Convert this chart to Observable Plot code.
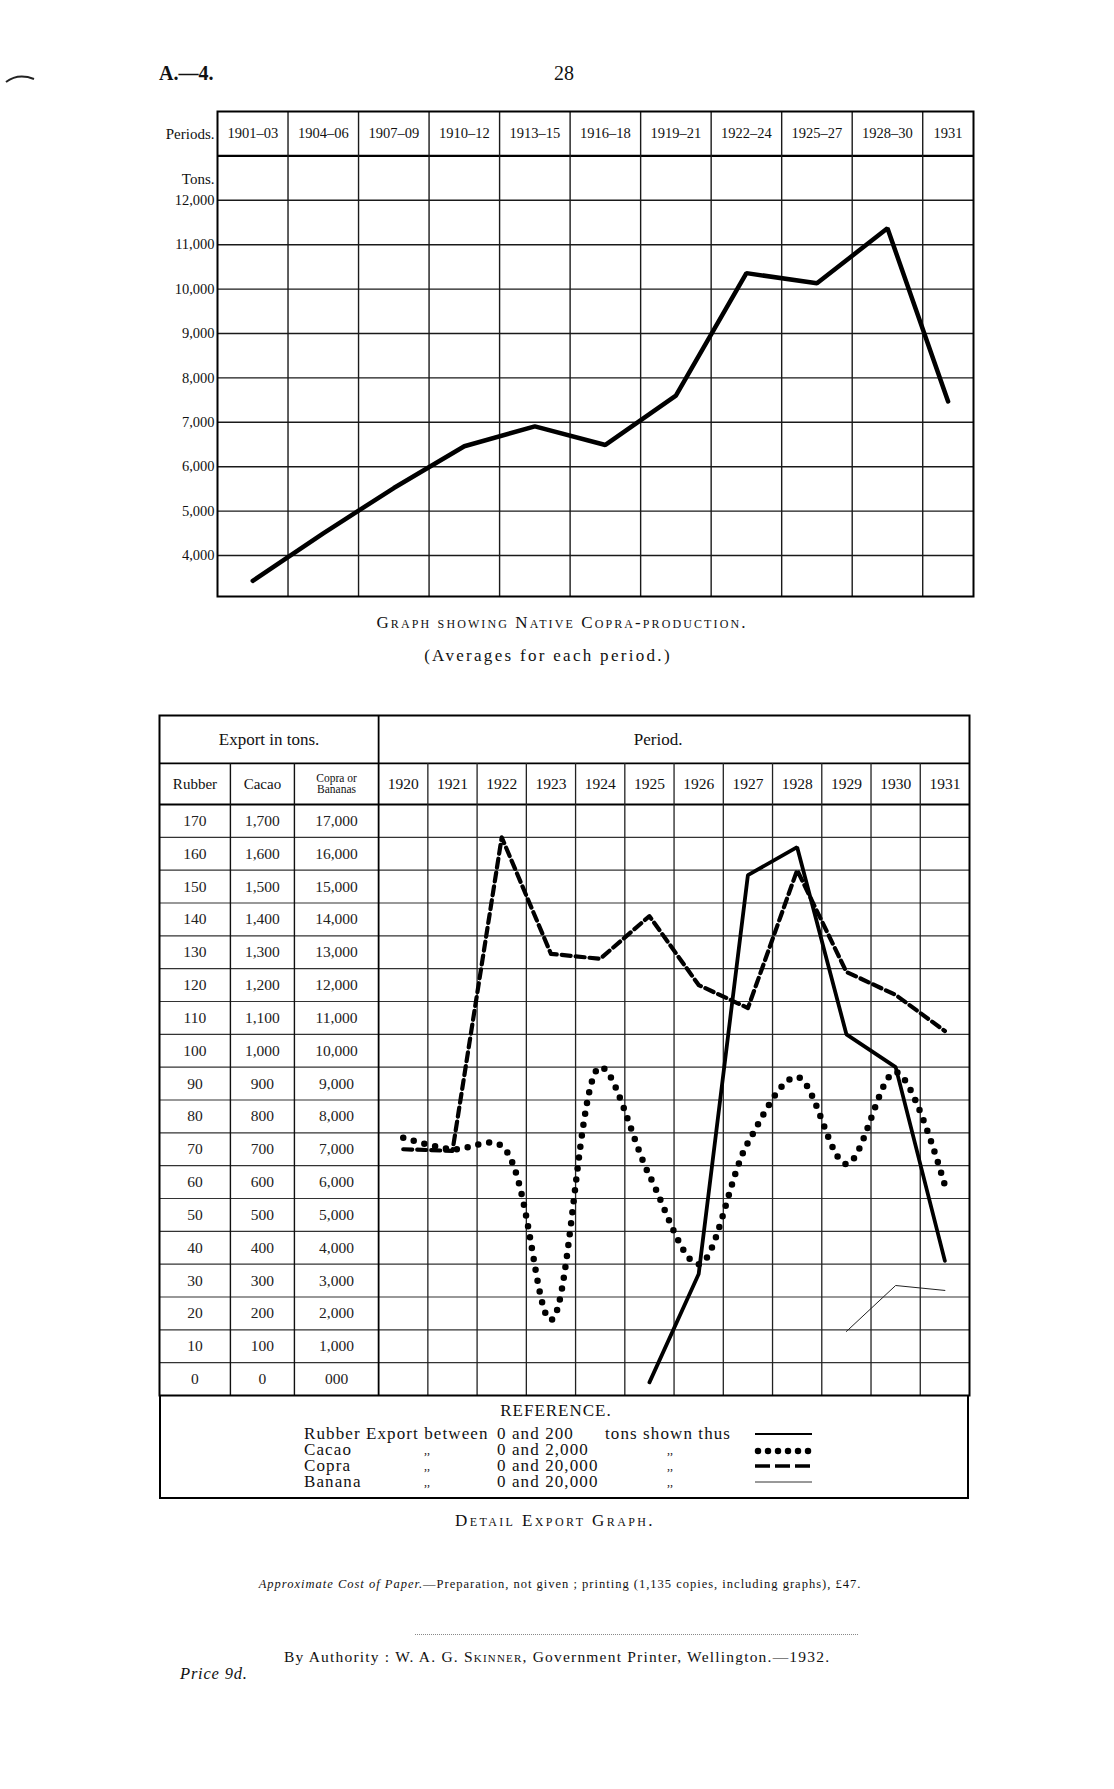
<!DOCTYPE html>
<html><head><meta charset="utf-8">
<script src="https://cdn.jsdelivr.net/npm/d3@7"></script>
<script src="https://cdn.jsdelivr.net/npm/@observablehq/plot@0.6"></script>
<style>
body{margin:0;background:#fff;}
#page{position:relative;width:1114px;height:1789px;background:#fff;font-family:"Liberation Serif","DejaVu Serif",serif;color:#111;overflow:hidden;}
.t{position:absolute;white-space:nowrap;line-height:1;}
.c{position:absolute;white-space:nowrap;text-align:center;width:800px;line-height:1;}
.sc{font-variant:small-caps;}
.lg{font-size:17px;letter-spacing:1.1px;}
.q{font-size:12px;}
#botchart text.hd{letter-spacing:1px;}
</style></head><body><div id="page">
<svg style="position:absolute;left:0;top:0" width="60" height="120"><path d="M6,82 Q18,73 34,79" fill="none" stroke="#222" stroke-width="2"/></svg>
<div class="t" style="left:159px;top:63px;font-size:20px;font-weight:bold;">A.—4.</div>
<div class="c" style="left:164px;top:63px;font-size:20px;">28</div>
<div id="topchart"></div>
<div class="c sc" style="left:162px;top:614px;font-size:17px;letter-spacing:2.1px;">Graph showing Native Copra-production.</div>
<div class="c" style="left:148px;top:647px;font-size:17px;letter-spacing:2.3px;">(Averages for each period.)</div>
<div id="botchart"></div>
<div id="refbox" style="position:absolute;left:159px;top:1395px;width:810px;height:104px;box-sizing:border-box;border-left:2px solid #000;border-right:2px solid #000;border-bottom:2px solid #000;"></div>
<div class="c" style="left:156px;top:1402px;font-size:17px;letter-spacing:1px;">REFERENCE.</div>
<div class="t lg" style="left:304px;top:1425px;">Rubber Export between</div>
<div class="t lg" style="left:497px;top:1425px;">0 and 200</div>
<div class="t lg" style="left:605px;top:1425px;">tons shown thus</div>
<div class="t lg" style="left:304px;top:1441px;">Cacao</div>
<div class="t lg" style="left:304px;top:1457px;">Copra</div>
<div class="t lg" style="left:304px;top:1473px;">Banana</div>
<div class="t q" style="left:424px;top:1444px;">,,</div>
<div class="t q" style="left:424px;top:1460px;">,,</div>
<div class="t q" style="left:424px;top:1476px;">,,</div>
<div class="t lg" style="left:497px;top:1441px;">0 and 2,000</div>
<div class="t lg" style="left:497px;top:1457px;">0 and 20,000</div>
<div class="t lg" style="left:497px;top:1473px;">0 and 20,000</div>
<div class="t q" style="left:667px;top:1444px;">,,</div>
<div class="t q" style="left:667px;top:1460px;">,,</div>
<div class="t q" style="left:667px;top:1476px;">,,</div>
<svg style="position:absolute;left:750px;top:1425px" width="70" height="70">
 <line x1="5" x2="62" y1="9" y2="9" stroke="#000" stroke-width="2.2"/>
 <line x1="8" x2="62" y1="26" y2="26" stroke="#000" stroke-width="6.5" stroke-dasharray="0 10" stroke-linecap="round"/>
 <line x1="5" x2="62" y1="41" y2="41" stroke="#000" stroke-width="3.5" stroke-dasharray="15 5"/>
 <line x1="5" x2="62" y1="57" y2="57" stroke="#333" stroke-width="1"/>
</svg>
<div class="c sc" style="left:155px;top:1512px;font-size:17px;letter-spacing:2.4px;">Detail Export Graph.</div>
<div class="c" style="left:160px;top:1578px;font-size:12.5px;letter-spacing:1px;"><i>Approximate Cost of Paper.</i>—Preparation, not given ; printing (1,135 copies, including graphs), £47.</div>
<div style="position:absolute;left:415px;top:1634px;width:443px;border-top:1px dotted #888;"></div>
<div class="t" style="left:284px;top:1649px;font-size:15.5px;letter-spacing:1.2px;">By Authority : W. A. G. <span class="sc">Skinner</span>, Government Printer, Wellington.—1932.</div>
<div class="t" style="left:180px;top:1666px;font-size:16.5px;font-style:italic;letter-spacing:0.8px;">Price 9d.</div>
</div>
<script>
// ---------- Top chart data ----------
const periods = ["1901–03","1904–06","1907–09","1910–12","1913–15","1916–18","1919–21","1922–24","1925–27","1928–30","1931"];
const copraTons = [3430, 4500, 5520, 6460, 6910, 6490, 7600, 10360, 10130, 11370, 7470];
const topTicks = [12000, 11000, 10000, 9000, 8000, 7000, 6000, 5000, 4000];

// ---------- Bottom chart data ----------
const years = [1920,1921,1922,1923,1924,1925,1926,1927,1928,1929,1930,1931];
// values in chart units (rubber tons; cacao tons/10; copra & banana tons/100)
const rubber = [null,null,null,null,null,4,37,158.5,167,110,100,41];
const cacao  = [78.5,75,76,23,100,67,40,77,97,70.5,98.5,64];
const copra  = [75,74.5,170,134.5,133,146,125,118,160,129,122,111];
const banana = [null,null,null,null,null,null,null,null,null,19.5,33.5,32];
const rubberLabels = ["170","160","150","140","130","120","110","100","90","80","70","60","50","40","30","20","10","0"];
const cacaoLabels  = ["1,700","1,600","1,500","1,400","1,300","1,200","1,100","1,000","900","800","700","600","500","400","300","200","100","0"];
const copraLabels  = ["17,000","16,000","15,000","14,000","13,000","12,000","11,000","10,000","9,000","8,000","7,000","6,000","5,000","4,000","3,000","2,000","1,000","000"];
const rowValues = [170,160,150,140,130,120,110,100,90,80,70,60,50,40,30,20,10,0];
const labelHeads = ["Rubber","Cacao","Copra or\nBananas"];

const FONT = "Liberation Serif";
const W = 1114;

// ---------- Top chart ----------
const lastW = 0.72;
const nP = periods.length;
const xMaxTop = (nP - 1) + lastW;
const colCenter = i => i < nP - 1 ? i + 0.5 : (nP - 1) + lastW / 2;
const topData = periods.map((p, i) => ({period: p, tons: copraTons[i], x: colCenter(i)}));
const yTopMin = 3077, yTopMax = 14000;
const topChart = Plot.plot({
  width: W, height: 530,
  marginTop: 21, marginBottom: 24, marginLeft: 217, marginRight: W - 973,
  x: {domain: [0, xMaxTop], axis: null},
  y: {domain: [yTopMin, yTopMax], axis: null},
  style: {fontFamily: FONT, background: "transparent", color: "#111", position: "absolute", left: "0px", top: "90px", overflow: "visible"},
  marks: [
    Plot.ruleY(d3.range(4000, 12001, 1000), {stroke: "#1a1a1a", strokeWidth: 1.4}),
    Plot.ruleY([13000], {stroke: "#000", strokeWidth: 2.2}),
    Plot.ruleX(d3.range(1, nP), {y1: yTopMin, y2: yTopMax, stroke: "#1a1a1a", strokeWidth: 1.4}),
    Plot.frame({stroke: "#000", strokeWidth: 2}),
    Plot.text(topData, {x: "x", y: 13500, text: "period", fontSize: 14.5, fill: "#111"}),
    Plot.text(["Periods."], {x: 0, y: 13500, textAnchor: "end", dx: -3, fontSize: 15, fill: "#111"}),
    Plot.text(["Tons."], {x: 0, y: 12480, textAnchor: "end", dx: -3, fontSize: 15, fill: "#111"}),
    Plot.text(topTicks, {x: 0, y: d => d, text: d => d3.format(",")(d), textAnchor: "end", dx: -3, fontSize: 14.5, fill: "#111"}),
    Plot.line(topData, {x: "x", y: "tons", stroke: "#000", strokeWidth: 4.5, strokeLinejoin: "miter"})
  ]
});
document.getElementById("topchart").appendChild(topChart);

// ---------- Bottom chart ----------
const labelColWidths = [1.44, 1.30, 1.71];
const firstYearLeft = years[0] - 0.5;
const xLeft = firstYearLeft - d3.sum(labelColWidths);
const xRight = years[years.length - 1] + 0.5;
const labelBounds = [xLeft + labelColWidths[0], xLeft + labelColWidths[0] + labelColWidths[1]];
const labelCenters = [
  xLeft + labelColWidths[0] / 2,
  xLeft + labelColWidths[0] + labelColWidths[1] / 2,
  xLeft + labelColWidths[0] + labelColWidths[1] + labelColWidths[2] / 2
];
const gridTop = 180, head2Top = 192.5, frameTop = 207.1;
const series = (arr) => years.map((y, i) => ({year: y, v: arr[i]})).filter(d => d.v != null);
const rows = rowValues.map((v, i) => ({v, r: rubberLabels[i], c: cacaoLabels[i], p: copraLabels[i]}));

const botChart = Plot.plot({
  width: W, height: 700,
  marginTop: 15, marginBottom: 5, marginLeft: 159, marginRight: W - 969,
  x: {domain: [xLeft, xRight], axis: null},
  y: {domain: [0, frameTop], axis: null},
  style: {fontFamily: FONT, background: "transparent", color: "#111", position: "absolute", left: "0px", top: "700px", overflow: "visible"},
  marks: [
    Plot.ruleY(d3.range(10, 171, 10), {stroke: "#333", strokeWidth: 1.2}),
    Plot.ruleY([gridTop, head2Top], {stroke: "#000", strokeWidth: 1.8}),
    Plot.ruleX(labelBounds, {y1: 0, y2: head2Top, stroke: "#111", strokeWidth: 1.4}),
    Plot.ruleX(years.slice(0, -1).map(y => y + 0.5), {y1: 0, y2: head2Top, stroke: "#222", strokeWidth: 1.3}),
    Plot.ruleX([firstYearLeft], {y1: 0, y2: frameTop, stroke: "#000", strokeWidth: 1.8}),
    Plot.frame({stroke: "#000", strokeWidth: 2}),
    Plot.text(["Export in tons."], {x: (xLeft + firstYearLeft) / 2, y: (head2Top + frameTop) / 2, fontSize: 17, fill: "#111", className: "hd"}),
    Plot.text(["Period."], {x: (firstYearLeft + xRight) / 2, y: (head2Top + frameTop) / 2, dx: -16, fontSize: 17, fill: "#111", className: "hd"}),
    Plot.text(labelHeads, {x: (d, i) => labelCenters[i], y: (gridTop + head2Top) / 2, fontSize: (d, i) => i === 2 ? 11.5 : 15, lineHeight: 0.95, fill: "#111"}),
    Plot.text(years, {x: d => d, y: (gridTop + head2Top) / 2, text: d => String(d), fontSize: 15.5, fill: "#111"}),
    Plot.text(rows, {x: labelCenters[0], y: d => d.v + 5, text: "r", fontSize: 15.5, fill: "#222"}),
    Plot.text(rows, {x: labelCenters[1], y: d => d.v + 5, text: "c", fontSize: 15.5, fill: "#222"}),
    Plot.text(rows, {x: labelCenters[2], y: d => d.v + 5, text: "p", fontSize: 15.5, fill: "#222"}),
    Plot.line(series(banana), {x: "year", y: "v", stroke: "#222", strokeWidth: 1}),
    Plot.line(series(copra), {x: "year", y: "v", stroke: "#000", strokeWidth: 4.2, strokeDasharray: "9 5", strokeLinejoin: "round"}),
    Plot.line(series(cacao), {x: "year", y: "v", stroke: "#000", strokeWidth: 6.5, strokeDasharray: "0 11", strokeLinecap: "round", curve: "catmull-rom"}),
    Plot.line(series(rubber), {x: "year", y: "v", stroke: "#000", strokeWidth: 3.8, strokeLinejoin: "miter"})
  ]
});
document.getElementById("botchart").appendChild(botChart);
</script>
</body></html>
